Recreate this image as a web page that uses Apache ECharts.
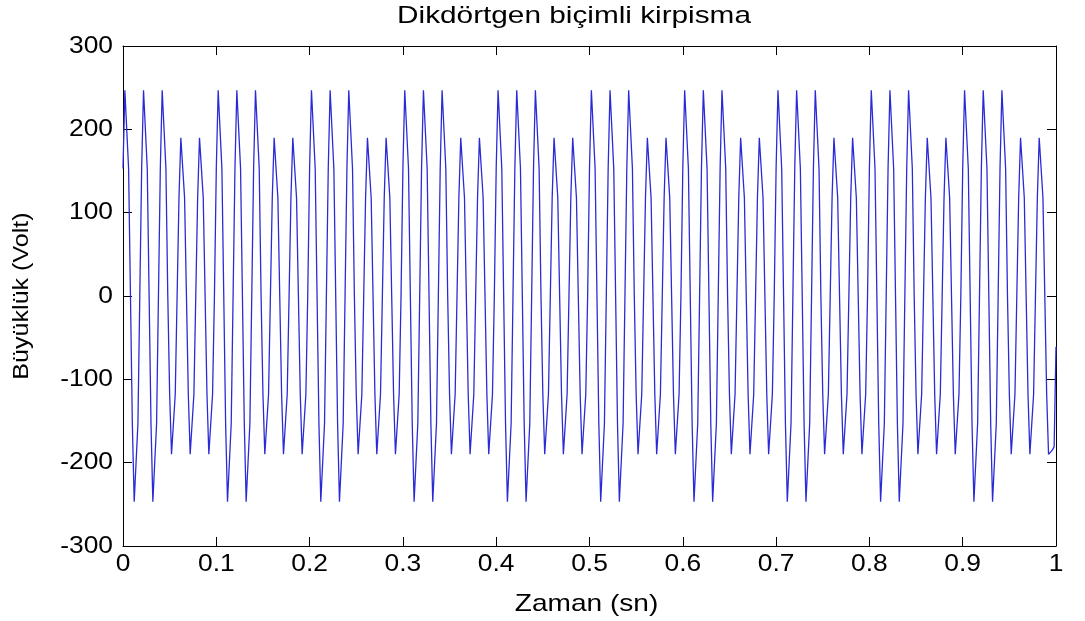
<!DOCTYPE html>
<html>
<head>
<meta charset="utf-8">
<script src="https://cdn.jsdelivr.net/npm/echarts@6/dist/echarts.min.js"></script>
<style>
  html, body { margin: 0; padding: 0; background: #fff; }
  #chart { width: 1085px; height: 621px; }
</style>
</head>
<body>
<div id="chart"></div>
<script>
// Örnekleme aralığı (sn) ve eksen bölmeleri
const orneklemeAraligi = 0.002;
const zamanBolmeleri = [0, 0.1, 0.2, 0.3, 0.4, 0.5, 0.6, 0.7, 0.8, 0.9, 1];
const genlikBolmeleri = [-300, -200, -100, 0, 100, 200, 300];

// Ölçülen gerilim örnekleri (Volt), her iki satır 0.1 sn
const gerilim = [
  153,247,247,153,0,-153,-247,-247,-153,0,153,247,247,153,0,-153,-247,-247,-153,0,153,247,247,153,0,
  -118,-190,-190,-118,0,118,190,190,118,0,-118,-190,-190,-118,0,118,190,190,118,0,-118,-190,-190,-118,0,
  153,247,247,153,0,-153,-247,-247,-153,0,153,247,247,153,0,-153,-247,-247,-153,0,153,247,247,153,0,
  -118,-190,-190,-118,0,118,190,190,118,0,-118,-190,-190,-118,0,118,190,190,118,0,-118,-190,-190,-118,0,
  153,247,247,153,0,-153,-247,-247,-153,0,153,247,247,153,0,-153,-247,-247,-153,0,153,247,247,153,0,
  -118,-190,-190,-118,0,118,190,190,118,0,-118,-190,-190,-118,0,118,190,190,118,0,-118,-190,-190,-118,0,
  153,247,247,153,0,-153,-247,-247,-153,0,153,247,247,153,0,-153,-247,-247,-153,0,153,247,247,153,0,
  -118,-190,-190,-118,0,118,190,190,118,0,-118,-190,-190,-118,0,118,190,190,118,0,-118,-190,-190,-118,0,
  153,247,247,153,0,-153,-247,-247,-153,0,153,247,247,153,0,-153,-247,-247,-153,0,153,247,247,153,0,
  -118,-190,-190,-118,0,118,190,190,118,0,-118,-190,-190,-118,0,118,190,190,118,0,-118,-190,-190,-118,0,
  153,247,247,153,0,-153,-247,-247,-153,0,153,247,247,153,0,-153,-247,-247,-153,0,153,247,247,153,0,
  -118,-190,-190,-118,0,118,190,190,118,0,-118,-190,-190,-118,0,118,190,190,118,0,-118,-190,-190,-118,0,
  153,247,247,153,0,-153,-247,-247,-153,0,153,247,247,153,0,-153,-247,-247,-153,0,153,247,247,153,0,
  -118,-190,-190,-118,0,118,190,190,118,0,-118,-190,-190,-118,0,118,190,190,118,0,-118,-190,-190,-118,0,
  153,247,247,153,0,-153,-247,-247,-153,0,153,247,247,153,0,-153,-247,-247,-153,0,153,247,247,153,0,
  -118,-190,-190,-118,0,118,190,190,118,0,-118,-190,-190,-118,0,118,190,190,118,0,-118,-190,-190,-118,0,
  153,247,247,153,0,-153,-247,-247,-153,0,153,247,247,153,0,-153,-247,-247,-153,0,153,247,247,153,0,
  -118,-190,-190,-118,0,118,190,190,118,0,-118,-190,-190,-118,0,118,190,190,118,0,-118,-190,-190,-118,0,
  153,247,247,153,0,-153,-247,-247,-153,0,153,247,247,153,0,-153,-247,-247,-153,0,153,247,247,153,0,
  -118,-190,-190,-118,0,118,190,190,118,0,-118,-190,-190,-118,0,118,190,190,118,0,-118,-190,-190,-185,-181,
  -61
];

// Zaman–gerilim çiftleri
const noktalar = gerilim.map((v, i) => [+(i * orneklemeAraligi).toFixed(4), v]);

const yazi = 'Liberation Sans, Arial, Helvetica, sans-serif';
const cizgi = { show: true, onZero: false, lineStyle: { color: '#000', width: 1 } };
const tik = { show: true, inside: true, length: 9, lineStyle: { color: '#000', width: 1 } };

const xEkseni = konum => ({
  type: 'value',
  position: konum,
  min: zamanBolmeleri[0],
  max: zamanBolmeleri[zamanBolmeleri.length - 1],
  interval: zamanBolmeleri[1] - zamanBolmeleri[0],
  axisLine: cizgi,
  axisTick: tik,
  splitLine: { show: false },
  axisLabel: { show: false }
});

const yEkseni = konum => ({
  type: 'value',
  position: konum,
  min: genlikBolmeleri[0],
  max: genlikBolmeleri[genlikBolmeleri.length - 1],
  interval: genlikBolmeleri[1] - genlikBolmeleri[0],
  axisLine: cizgi,
  axisTick: tik,
  splitLine: { show: false },
  axisLabel: { show: false }
});

const grafik = echarts.init(document.getElementById('chart'), null, { renderer: 'canvas' });
grafik.setOption({
  animation: false,
  backgroundColor: '#fff',
  grid: { left: 123, right: 29, top: 46, bottom: 75, containLabel: false },
  xAxis: [xEkseni('bottom'), xEkseni('top')],
  yAxis: [yEkseni('left'), yEkseni('right')],
  series: [{
    type: 'line',
    xAxisIndex: 0,
    yAxisIndex: 0,
    data: noktalar,
    showSymbol: false,
    symbol: 'none',
    lineStyle: { color: '#2b2bd6', width: 1.3 },
    z: 1
  }]
});

// Yazılar: geniş Helvetica görünümü için yatayda biraz uzatılmış metin
function metin(x, y, yaziMetni, boyut, olcek, hiza, dikey, aci) {
  return {
    type: 'text',
    x: x, y: y,
    rotation: aci || 0,
    scaleX: olcek,
    silent: true,
    style: {
      text: yaziMetni,
      fill: '#000',
      fontSize: boyut,
      fontFamily: yazi,
      align: hiza,
      verticalAlign: dikey
    }
  };
}

const yazilar = [];
zamanBolmeleri.forEach(v => {
  const p = grafik.convertToPixel({ xAxisIndex: 0, yAxisIndex: 0 }, [v, genlikBolmeleri[0]]);
  yazilar.push(metin(p[0], p[1] + 6, String(v), 24, 1.1, 'center', 'top'));
});
genlikBolmeleri.forEach(v => {
  const p = grafik.convertToPixel({ xAxisIndex: 0, yAxisIndex: 0 }, [zamanBolmeleri[0], v]);
  yazilar.push(metin(p[0] - 10, p[1], String(v), 24, 1.1, 'right', 'middle'));
});
const sol = grafik.convertToPixel({ xAxisIndex: 0, yAxisIndex: 0 }, [zamanBolmeleri[0], 0]);
const orta = grafik.convertToPixel({ xAxisIndex: 0, yAxisIndex: 0 }, [0.5, genlikBolmeleri[0]]);
yazilar.push(metin(574, 4, 'Dikdörtgen biçimli kirpisma', 24, 1.24, 'center', 'top'));
yazilar.push(metin(orta[0] - 3, orta[1] + 46, 'Zaman (sn)', 24, 1.17, 'center', 'top'));
yazilar.push(metin(22, sol[1], 'Büyüklük (Volt)', 22, 1.14, 'center', 'middle', Math.PI / 2));

grafik.setOption({ graphic: { elements: yazilar } });
</script>
</body>
</html>
